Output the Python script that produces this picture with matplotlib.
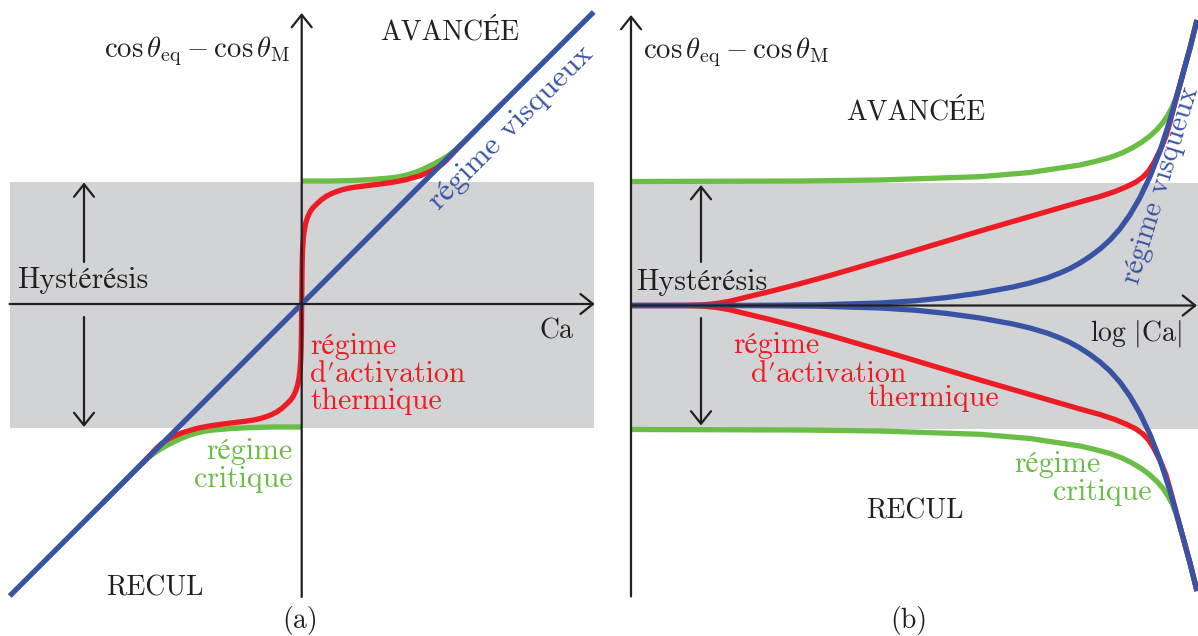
import numpy as np
import matplotlib.pyplot as plt

plt.rcParams['font.family'] = ['cmr10', 'STIXGeneral', 'DejaVu Serif']
plt.rcParams['mathtext.fontset'] = 'cm'

BLEU = '#3953A4'
ROUGE = '#ED1C24'
VERT = '#6ABD45'
GRIS = '#D1D3D4'
NOIR = '#231F20'
FS = 21.5      # texte en minuscules
FS_MAJ = 20    # capitales, Ca, (a), (b)

# bande d'hystérésis (commune aux deux schémas)
hyst_bas, hyst_haut = -1.235, 1.225

#%% (a) branche Ca > 0, la branche Ca < 0 est obtenue par symétrie centrale
visq_a_x = [-2.92, 2.92]
visq_a_y = [-2.92, 2.92]

therm_a_x = [0, 0.003, 0.006, 0.01, 0.017, 0.027, 0.04, 0.06, 0.083, 0.11, 0.15, 0.2,
             0.25, 0.3, 0.35, 0.42, 0.48, 0.56, 0.65, 0.74, 0.82, 0.9, 0.98, 1.05,
             1.12, 1.19, 1.25, 1.30, 1.35, 1.40, 1.45, 1.6]
therm_a_y = [0, 0.30, 0.46, 0.57, 0.66, 0.74, 0.81, 0.87, 0.92, 0.96, 1.0, 1.045,
             1.08, 1.105, 1.125, 1.147, 1.16, 1.172, 1.183, 1.194, 1.205, 1.216, 1.23,
             1.245, 1.265, 1.285, 1.31, 1.333, 1.36, 1.395, 1.44, 1.6]

crit_a_x = [0.0, 0.3, 0.5, 0.7, 0.88, 0.97, 1.05, 1.14, 1.22, 1.29, 1.35, 1.42, 1.48,
            1.57, 1.65, 2.0]
crit_a_y = [1.23, 1.23, 1.235, 1.245, 1.26, 1.272, 1.29, 1.318, 1.35, 1.385, 1.415,
            1.455, 1.495, 1.565, 1.645, 2.0]

#%% (b) branche avancée, la branche recul est symétrique par rapport à l'axe
visq_b_x = [0, 1.19, 1.89, 2.49, 2.84, 3.16, 3.49, 3.82, 3.99, 4.16, 4.29, 4.39, 4.49,
            4.59, 4.69, 4.79, 4.89, 4.99, 5.09, 5.19, 5.29, 5.39, 5.49, 5.59, 5.66]
visq_b_y = [0, 0.001, 0.007, 0.025, 0.047, 0.08, 0.125, 0.185, 0.225, 0.275, 0.325,
            0.37, 0.425, 0.49, 0.565, 0.655, 0.7675, 0.9075, 1.08, 1.29, 1.545, 1.855,
            2.21, 2.575, 2.855]

therm_b_x = [0, 0.59, 0.74, 0.87, 0.99, 1.16, 1.39, 1.66, 1.99, 2.59, 3.49, 4.49,
             4.69, 4.84, 4.96, 5.05, 5.12, 5.18, 5.23, 5.27, 5.31, 5.35, 5.39, 5.49,
             5.59, 5.66]
therm_b_y = [0, 0.002, 0.008, 0.022, 0.043, 0.085, 0.14, 0.21, 0.30, 0.475, 0.745,
             1.035, 1.09, 1.14, 1.19, 1.235, 1.285, 1.35, 1.43, 1.51, 1.595, 1.695,
             1.835, 2.21, 2.575, 2.855]

crit_b_x = [0, 1.69, 2.49, 3.49, 3.99, 4.49, 4.64, 4.79, 4.91, 5.02, 5.11, 5.19, 5.26,
            5.32, 5.37, 5.41, 5.45, 5.49, 5.59, 5.66]
crit_b_y = [1.24, 1.245, 1.255, 1.288, 1.33, 1.405, 1.44, 1.48, 1.525, 1.58, 1.635,
            1.695, 1.76, 1.83, 1.905, 1.98, 2.075, 2.21, 2.575, 2.855]


def symetrie_centrale(x, y):
    x = np.asarray(x, float)
    y = np.asarray(y, float)
    return np.concatenate([-x[::-1], x[1:]]), np.concatenate([-y[::-1], y[1:]])


def fleche(ax, debut, fin):
    ax.annotate('', xy=fin, xytext=debut,
                arrowprops=dict(arrowstyle='->,head_length=0.45,head_width=0.36',
                                lw=1.6, color=NOIR, shrinkA=0, shrinkB=0,
                                mutation_scale=20))


fig = plt.figure(figsize=(11.98, 6.36), dpi=100)

# 100 pixels par unité dans les deux directions
ax_a = fig.add_axes([0, 0, 615 / 1198, 1])
ax_a.set_xlim(-3.017, 3.133)
ax_a.set_ylim(-3.32, 3.04)
ax_b = fig.add_axes([615 / 1198, 0, 583 / 1198, 1])
ax_b.set_xlim(-0.16, 5.67)
ax_b.set_ylim(-3.305, 3.055)
for ax in (ax_a, ax_b):
    ax.axis('off')

kw = dict(lw=3.8, solid_capstyle='butt', solid_joinstyle='round')

#%% schéma (a)
ax = ax_a
ax.fill_between([-2.917, 2.923], hyst_bas, hyst_haut, color=GRIS, lw=0)
fleche(ax, (-2.92, 0), (2.93, 0))
fleche(ax, (0, -2.93), (0, 2.91))
fleche(ax, (-2.177, 0.42), (-2.177, 1.215))
fleche(ax, (-2.177, -0.13), (-2.177, -1.23))

cx, cy = np.asarray(crit_a_x), np.asarray(crit_a_y)
ax.plot(cx, cy, color=VERT, **kw)
ax.plot(-cx, -cy, color=VERT, **kw)
tx, ty = symetrie_centrale(therm_a_x, therm_a_y)
ax.plot(tx, ty, color=ROUGE, **kw)
ax.plot(visq_a_x, visq_a_y, color=BLEU, **kw)

ax.text(-0.115, 2.47, r'$\cos\theta_{\mathrm{eq}}-\cos\theta_{\mathrm{M}}$',
        ha='right', va='baseline', fontsize=20.7, color=NOIR)
ax.text(1.483, 2.64, 'AVANCÉE', ha='center', va='baseline', fontsize=FS_MAJ, color=NOIR)
ax.text(-2.844, 0.157, 'Hystérésis', ha='left', va='baseline', fontsize=FS, color=NOIR)
ax.text(2.55, -0.343, 'Ca', ha='center', va='baseline', fontsize=FS_MAJ, color=NOIR)
ax.text(-1.467, -2.91, 'RECUL', ha='center', va='baseline', fontsize=FS_MAJ, color=NOIR)
ax.text(-0.017, -3.24, '(a)', ha='center', va='baseline', fontsize=FS_MAJ, color=NOIR)
# pour un texte sur plusieurs lignes, 'baseline' vise la dernière ligne
ax.text(0.085, -1.05, 'régime\nd′activation\nthermique', ha='left', va='baseline',
        linespacing=1.0, fontsize=FS, color=ROUGE)
ax.text(-0.087, -1.833, 'régime\ncritique', ha='right', va='baseline',
        multialignment='right', linespacing=1.05, fontsize=FS, color=VERT)
ax.text(2.093, 1.77, 'régime visqueux', rotation=45, rotation_mode='anchor',
        ha='center', va='center', fontsize=22.5, color=BLEU)

#%% schéma (b)
ax = ax_b
ax.fill_between([0, 5.67], hyst_bas, hyst_haut, color=GRIS, lw=0)
fleche(ax, (0, 0), (5.66, 0))
fleche(ax, (0, -2.91), (0, 2.905))
fleche(ax, (0.70, 0.435), (0.70, 1.205))
fleche(ax, (0.70, -0.125), (0.70, -1.20))

for yy in (np.asarray(crit_b_y), -np.asarray(crit_b_y)):
    ax.plot(crit_b_x, yy, color=VERT, **kw)
for yy in (np.asarray(therm_b_y), -np.asarray(therm_b_y)):
    ax.plot(therm_b_x, yy, color=ROUGE, **kw)
for yy in (np.asarray(visq_b_y), -np.asarray(visq_b_y)):
    ax.plot(visq_b_x, yy, color=BLEU, **kw)

ax.text(0.12, 2.47, r'$\cos\theta_{\mathrm{eq}}-\cos\theta_{\mathrm{M}}$',
        ha='left', va='baseline', fontsize=20.7, color=NOIR)
ax.text(2.85, 1.865, 'AVANCÉE', ha='center', va='baseline', fontsize=FS_MAJ, color=NOIR)
ax.text(0.05, 0.16, 'Hystérésis', ha='left', va='baseline', fontsize=FS, color=NOIR)
ax.text(5.05, -0.352, r'$\log\,|\mathrm{Ca}|$', ha='center', va='baseline',
        fontsize=20, color=NOIR)
ax.text(2.84, -2.128, 'RECUL', ha='center', va='baseline', fontsize=FS_MAJ, color=NOIR)
ax.text(2.78, -3.225, '(b)', ha='center', va='baseline', fontsize=FS_MAJ, color=NOIR)
for s, x, y in zip(['régime', 'd′activation', 'thermique'],
                   [1.026, 1.198, 2.36], [-0.478, -0.762, -1.005]):
    ax.text(x, y, s, ha='left', va='baseline', fontsize=FS, color=ROUGE)
for s, x, y in zip(['régime', 'critique'], [3.83, 4.217], [-1.662, -1.945]):
    ax.text(x, y, s, ha='left', va='baseline', fontsize=FS, color=VERT)
ax.text(5.30, 1.20, 'régime visqueux', rotation=73, rotation_mode='anchor',
        ha='center', va='center', fontsize=21, color=BLEU)

fig.savefig('out.png', dpi=100)
